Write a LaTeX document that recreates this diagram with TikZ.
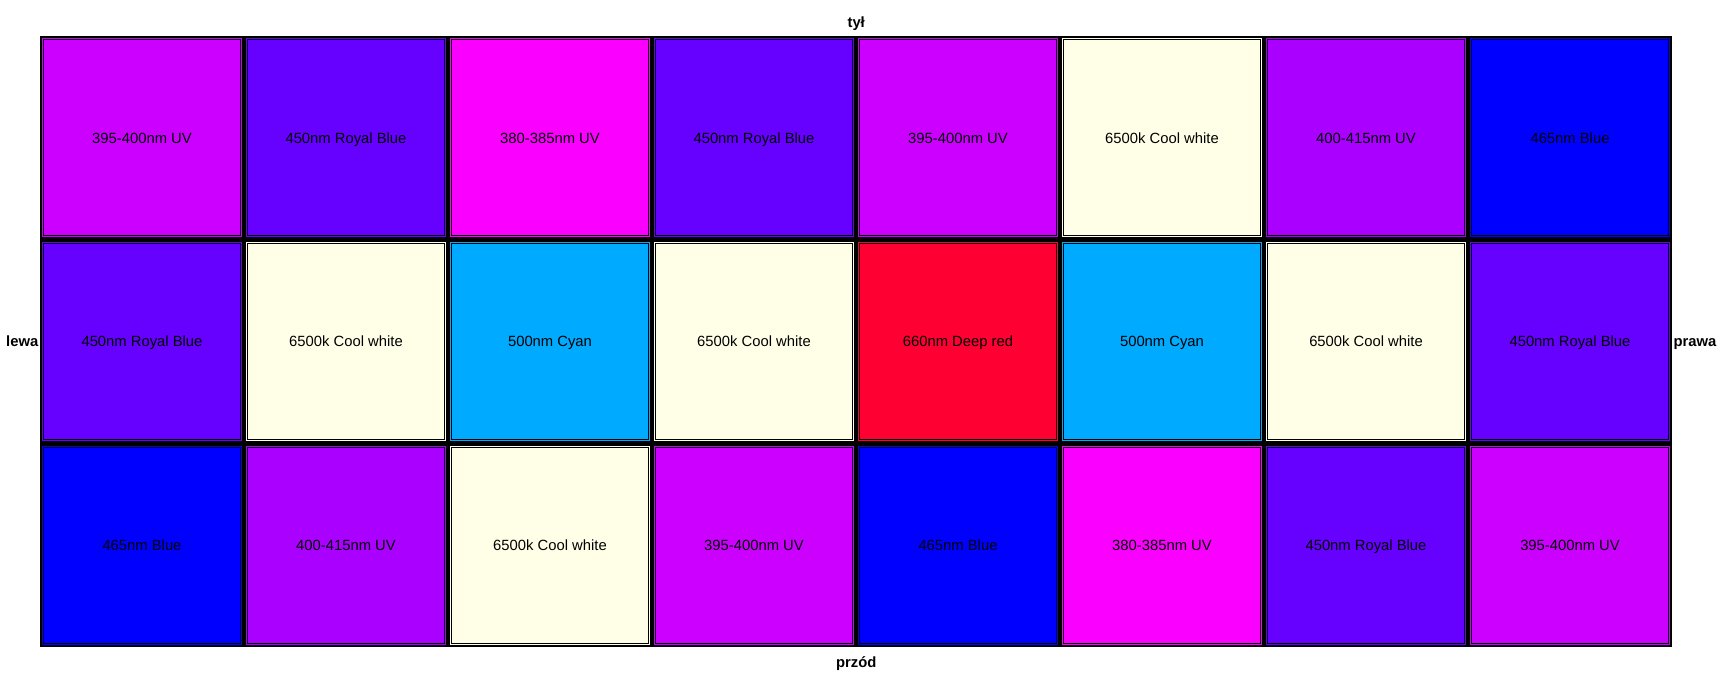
\documentclass[tikz,border=0pt]{standalone}
\usepackage{fontspec}
\setmainfont{Liberation Sans}
\definecolor{uv395}{RGB}{204,0,255}
\definecolor{royal450}{RGB}{102,0,255}
\definecolor{uv380}{RGB}{250,0,255}
\definecolor{uv400}{RGB}{170,0,255}
\definecolor{blue465}{RGB}{0,0,255}
\definecolor{cyan500}{RGB}{0,170,255}
\definecolor{red660}{RGB}{255,0,51}
\definecolor{white6500}{RGB}{255,255,232}
\usetikzlibrary{positioning}

\begin{document}
\begin{tikzpicture}[x=1pt, y=-1pt,
  ledcell/.style={draw=black, line width=0.8pt, double=#1, double distance=1.2pt, fill=#1,
    minimum width=198.5pt, minimum height=198pt, inner sep=0pt, text height=11pt, text depth=0pt,
    font=\fontsize{14.8}{17}\selectfont},
  side/.style={inner sep=0pt, text height=10.5pt, text depth=0pt, font=\bfseries\fontsize{14.8}{17}\selectfont}]
  \useasboundingbox (0,0) rectangle (1728,681);
  \node[fill=black, inner sep=0pt, minimum width=1632pt, minimum height=611pt, anchor=north west] (table) at (40,36) {};
  % LED grid, row by row
  \foreach \lbl/\col [count=\n from 0] in {
      395-400nm UV/uv395, 450nm Royal Blue/royal450, 380-385nm UV/uv380, 450nm Royal Blue/royal450,
      395-400nm UV/uv395, 6500k Cool white/white6500, 400-415nm UV/uv400, 465nm Blue/blue465,
      450nm Royal Blue/royal450, 6500k Cool white/white6500, 500nm Cyan/cyan500, 6500k Cool white/white6500,
      660nm Deep red/red660, 500nm Cyan/cyan500, 6500k Cool white/white6500, 450nm Royal Blue/royal450,
      465nm Blue/blue465, 400-415nm UV/uv400, 6500k Cool white/white6500, 395-400nm UV/uv395,
      465nm Blue/blue465, 380-385nm UV/uv380, 450nm Royal Blue/royal450, 395-400nm UV/uv395} {
    \pgfmathtruncatemacro\r{\n/8}
    \pgfmathtruncatemacro\c{mod(\n,8)}
    \node[ledcell=\col] (cell-\r-\c) at ({142+204*\c},{137.8+203.67*\r}) {\lbl};
  }
  \node[side, above=8pt of table.north] (back) {tył};
  \node[side, below=9.5pt of table.south] (front) {przód};
  \node[side, left=1.5pt of table.west] (left) {lewa};
  \node[side, right=1pt of table.east] (right) {prawa};
\end{tikzpicture}
\end{document}
